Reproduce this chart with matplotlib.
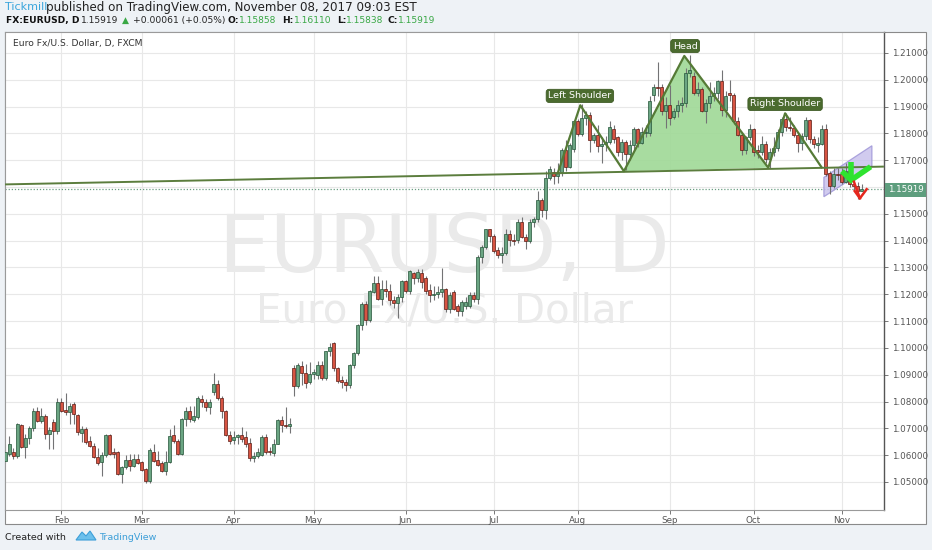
import numpy as np
import pandas as pd
import matplotlib
matplotlib.use('Agg')
import matplotlib.pyplot as plt
from matplotlib.patches import Rectangle, Polygon

# ---------------- data ----------------
dates = pd.bdate_range('2017-01-12', '2017-11-08')

open_ = [
    # Jan
    1.0580, 1.0604, 1.0610, 1.0598, 1.0714, 1.0629, 1.0664, 1.0701, 1.0766, 1.0729, 1.0747, 1.0679, 1.0723, 1.0691,
    # Feb
    1.0798, 1.0770, 1.0760, 1.0791, 1.0751, 1.0681, 1.0698, 1.0654, 1.0635, 1.0594, 1.0575, 1.0600, 1.0675, 1.0610,
    1.0610, 1.0529, 1.0556, 1.0581, 1.0560, 1.0585,
    # Mar
    1.0576, 1.0548, 1.0504, 1.0610, 1.0581, 1.0569, 1.0541, 1.0575, 1.0676, 1.0654, 1.0604, 1.0735, 1.0766, 1.0731,
    1.0741, 1.0810, 1.0798, 1.0781, 1.0835, 1.0866, 1.0813, 1.0766, 1.0675,
    # Apr
    1.0655, 1.0668, 1.0675, 1.0666, 1.0645, 1.0588, 1.0598, 1.0600, 1.0666, 1.0615, 1.0607, 1.0643, 1.0733, 1.0713,
    1.0709, 1.0924, 1.0858, 1.0933, 1.0908, 1.0874,
    # May
    1.0901, 1.0899, 1.0938, 1.0886, 1.0988, 1.1020, 1.0926, 1.0880, 1.0872, 1.0862, 1.0936, 1.0980, 1.1085, 1.1162,
    1.1104, 1.1209, 1.1244, 1.1182, 1.1219, 1.1212, 1.1180, 1.1168, 1.1191,
    # Jun
    1.1249, 1.1212, 1.1280, 1.1259, 1.1281, 1.1259, 1.1216, 1.1197, 1.1200, 1.1208, 1.1220, 1.1146, 1.1208, 1.1155,
    1.1136, 1.1158, 1.1155, 1.1198, 1.1183, 1.1339, 1.1376, 1.1442,
    # Jul
    1.1419, 1.1367, 1.1347, 1.1355, 1.1426, 1.1401, 1.1401, 1.1469, 1.1413, 1.1397, 1.1469, 1.1479, 1.1553, 1.1516,
    1.1634, 1.1658, 1.1641, 1.1658, 1.1737, 1.1675, 1.1743,
    # Aug
    1.1845, 1.1799, 1.1857, 1.1870, 1.1774, 1.1793, 1.1753, 1.1760, 1.1768, 1.1817, 1.1786, 1.1730, 1.1768, 1.1724,
    1.1758, 1.1817, 1.1765, 1.1800, 1.1802, 1.1944, 1.1975, 1.1973, 1.1883,
    # Sep
    1.1907, 1.1862, 1.1885, 1.1905, 1.1914, 1.2025, 1.2015, 1.1951, 1.1965, 1.1885, 1.1915, 1.1940, 1.1950, 1.1994,
    1.1889, 1.1952, 1.1945, 1.1845, 1.1795, 1.1740, 1.1785,
    # Oct
    1.1815, 1.1740, 1.1730, 1.1760, 1.1705, 1.1730, 1.1745, 1.1805, 1.1855, 1.1825, 1.1820, 1.1795, 1.1765, 1.1790,
    1.1850, 1.1780, 1.1758, 1.1760, 1.1815, 1.1654, 1.1605, 1.1650,
    # Nov
    1.1650, 1.1620, 1.1660, 1.1610, 1.1605, 1.15858,
]
high = [
    1.0640, 1.0672, 1.0625, 1.0720, 1.0718, 1.0680, 1.0710, 1.0775, 1.0778, 1.0775, 1.0752, 1.0706, 1.0735, 1.0812,
    1.0812, 1.0831, 1.0796, 1.0797, 1.0755, 1.0710, 1.0705, 1.0672, 1.0645, 1.0627, 1.0610, 1.0680, 1.0680, 1.0625,
    1.0615, 1.0560, 1.0602, 1.0606, 1.0605, 1.0606,
    1.0580, 1.0552, 1.0625, 1.0640, 1.0615, 1.0580, 1.0615, 1.0699, 1.0714, 1.0660, 1.0740, 1.0778, 1.0785, 1.0785,
    1.0820, 1.0825, 1.0810, 1.0810, 1.0906, 1.0880, 1.0820, 1.0770, 1.0690,
    1.0690, 1.0680, 1.0705, 1.0690, 1.0665, 1.0610, 1.0625, 1.0675, 1.0678, 1.0630, 1.0660, 1.0735, 1.0745, 1.0778,
    1.0740, 1.0935, 1.0945, 1.0950, 1.0940, 1.0948,
    1.0920, 1.0950, 1.0950, 1.0990, 1.1020, 1.1023, 1.0930, 1.0895, 1.0885, 1.0940, 1.0985, 1.1090, 1.1170, 1.1175,
    1.1215, 1.1268, 1.1268, 1.1253, 1.1253, 1.1237, 1.1195, 1.1200, 1.1255,
    1.1255, 1.1290, 1.1285, 1.1296, 1.1295, 1.1270, 1.1240, 1.1230, 1.1230, 1.1298, 1.1225, 1.1210, 1.1215, 1.1165,
    1.1180, 1.1190, 1.1210, 1.1210, 1.1345, 1.1385, 1.1445, 1.1445,
    1.1425, 1.1375, 1.1375, 1.1445, 1.1440, 1.1425, 1.1480, 1.1490, 1.1425, 1.1480, 1.1490, 1.1584, 1.1560, 1.1660,
    1.1680, 1.1670, 1.1690, 1.1745, 1.1775, 1.1765, 1.1850,
    1.1855, 1.1910, 1.1885, 1.1880, 1.1800, 1.1830, 1.1785, 1.1790, 1.1845, 1.1830, 1.1790, 1.1780, 1.1775, 1.1775,
    1.1825, 1.1820, 1.1825, 1.1830, 1.1940, 1.1985, 1.2068, 1.1985, 1.1935,
    1.1980, 1.1895, 1.1925, 1.1935, 1.2045, 1.2092, 1.2030, 1.1990, 1.1975, 1.1930, 1.1990, 1.1975, 1.2000, 1.2035,
    1.1960, 1.2000, 1.1950, 1.1860, 1.1800, 1.1790, 1.1835,
    1.1820, 1.1755, 1.1790, 1.1770, 1.1745, 1.1785, 1.1815, 1.1860, 1.1877, 1.1860, 1.1830, 1.1805, 1.1800, 1.1860,
    1.1855, 1.1790, 1.1785, 1.1830, 1.1835, 1.1660, 1.1670, 1.1670,
    1.1670, 1.1688, 1.1690, 1.1630, 1.1620, 1.16110,
]
low = [
    1.0572, 1.0597, 1.0585, 1.0590, 1.0625, 1.0590, 1.0640, 1.0690, 1.0722, 1.0720, 1.0662, 1.0622, 1.0622, 1.0680,
    1.0760, 1.0750, 1.0715, 1.0718, 1.0675, 1.0650, 1.0640, 1.0630, 1.0590, 1.0562, 1.0522, 1.0595, 1.0600, 1.0590,
    1.0525, 1.0495, 1.0550, 1.0540, 1.0555, 1.0566,
    1.0540, 1.0495, 1.0495, 1.0575, 1.0560, 1.0536, 1.0525, 1.0570, 1.0645, 1.0600, 1.0600, 1.0710, 1.0725, 1.0725,
    1.0735, 1.0780, 1.0765, 1.0755, 1.0825, 1.0806, 1.0740, 1.0670, 1.0640,
    1.0640, 1.0640, 1.0650, 1.0630, 1.0580, 1.0575, 1.0590, 1.0598, 1.0605, 1.0600, 1.0598, 1.0640, 1.0685, 1.0700,
    1.0682, 1.0820, 1.0850, 1.0860, 1.0852, 1.0865,
    1.0885, 1.0885, 1.0880, 1.0880, 1.0970, 1.0915, 1.0870, 1.0850, 1.0838, 1.0850, 1.0925, 1.0975, 1.1065, 1.1085,
    1.1095, 1.1205, 1.1180, 1.1160, 1.1190, 1.1160, 1.1150, 1.1110, 1.1170,
    1.1205, 1.1200, 1.1240, 1.1245, 1.1225, 1.1200, 1.1170, 1.1180, 1.1185, 1.1190, 1.1135, 1.1130, 1.1140, 1.1120,
    1.1120, 1.1145, 1.1150, 1.1170, 1.1165, 1.1315, 1.1370, 1.1395,
    1.1355, 1.1335, 1.1315, 1.1345, 1.1380, 1.1385, 1.1390, 1.1410, 1.1370, 1.1390, 1.1450, 1.1470, 1.1490, 1.1480,
    1.1625, 1.1610, 1.1615, 1.1640, 1.1660, 1.1670, 1.1730,
    1.1790, 1.1790, 1.1830, 1.1730, 1.1765, 1.1730, 1.1690, 1.1735, 1.1760, 1.1765, 1.1715, 1.1700, 1.1662, 1.1700,
    1.1740, 1.1750, 1.1760, 1.1785, 1.1790, 1.1920, 1.1940, 1.1870, 1.1820,
    1.1830, 1.1855, 1.1860, 1.1880, 1.1900, 1.2010, 1.1945, 1.1940, 1.1880, 1.1840, 1.1895, 1.1920, 1.1930, 1.1865,
    1.1860, 1.1920, 1.1835, 1.1790, 1.1718, 1.1725, 1.1775,
    1.1715, 1.1710, 1.1720, 1.1690, 1.1670, 1.1715, 1.1735, 1.1790, 1.1810, 1.1810, 1.1785, 1.1730, 1.1740, 1.1775,
    1.1765, 1.1745, 1.1730, 1.1755, 1.1640, 1.1574, 1.1595, 1.1625,
    1.1610, 1.1615, 1.1600, 1.1590, 1.1555, 1.15838,
]
close = [
    1.0612, 1.0641, 1.0598, 1.0716, 1.0629, 1.0664, 1.0701, 1.0766, 1.0729, 1.0747, 1.0679, 1.0694, 1.0691, 1.0798,
    1.0766, 1.0760, 1.0785, 1.0754, 1.0685, 1.0698, 1.0648, 1.0635, 1.0594, 1.0569, 1.0600, 1.0675, 1.0606, 1.0604,
    1.0529, 1.0556, 1.0581, 1.0560, 1.0585, 1.0572,
    1.0544, 1.0504, 1.0619, 1.0579, 1.0564, 1.0541, 1.0575, 1.0672, 1.0651, 1.0604, 1.0735, 1.0766, 1.0735, 1.0747,
    1.0812, 1.0798, 1.0781, 1.0798, 1.0866, 1.0812, 1.0765, 1.0675, 1.0654,
    1.0668, 1.0674, 1.0660, 1.0641, 1.0588, 1.0598, 1.0610, 1.0666, 1.0612, 1.0610, 1.0643, 1.0733, 1.0713, 1.0709,
    1.0718, 1.0858, 1.0935, 1.0905, 1.0871, 1.0901,
    1.0910, 1.0936, 1.0889, 1.0988, 1.1004, 1.0924, 1.0876, 1.0872, 1.0862, 1.0936, 1.0980, 1.1085, 1.1162, 1.1104,
    1.1212, 1.1244, 1.1184, 1.1219, 1.1212, 1.1180, 1.1168, 1.1191, 1.1249,
    1.1212, 1.1286, 1.1259, 1.1284, 1.1247, 1.1212, 1.1197, 1.1202, 1.1208, 1.1220, 1.1146, 1.1198, 1.1146, 1.1136,
    1.1171, 1.1173, 1.1198, 1.1183, 1.1339, 1.1376, 1.1442, 1.1419,
    1.1363, 1.1347, 1.1355, 1.1426, 1.1401, 1.1398, 1.1469, 1.1413, 1.1397, 1.1469, 1.1479, 1.1553, 1.1516, 1.1634,
    1.1668, 1.1641, 1.1655, 1.1737, 1.1675, 1.1755, 1.1845,
    1.1799, 1.1857, 1.1870, 1.1774, 1.1793, 1.1753, 1.1762, 1.1768, 1.1824, 1.1780, 1.1730, 1.1768, 1.1724, 1.1758,
    1.1817, 1.1765, 1.1805, 1.1805, 1.1920, 1.1975, 1.1970, 1.1883, 1.1907,
    1.1858, 1.1885, 1.1905, 1.1915, 1.2025, 1.2035, 1.1951, 1.1965, 1.1885, 1.1915, 1.1940, 1.1950, 1.1994, 1.1889,
    1.1940, 1.1945, 1.1845, 1.1795, 1.1740, 1.1785, 1.1815,
    1.1730, 1.1730, 1.1760, 1.1705, 1.1730, 1.1745, 1.1805, 1.1855, 1.1825, 1.1820, 1.1795, 1.1765, 1.1790, 1.1850,
    1.1780, 1.1760, 1.1763, 1.1815, 1.1650, 1.1605, 1.1650, 1.1645,
    1.1620, 1.1660, 1.1610, 1.1605, 1.1586, 1.15919,
]

month_labels = ['Feb', 'Mar', 'Apr', 'May', 'Jun', 'Jul', 'Aug', 'Sep', 'Oct', 'Nov']
price_ticks = [1.05, 1.06, 1.07, 1.08, 1.09, 1.10, 1.11, 1.12, 1.13, 1.14, 1.15, 1.16,
               1.17, 1.18, 1.19, 1.20, 1.21]
last_price = 1.15919

# head & shoulders pattern points (bar index counted from Feb 1, price)
hs_x = [124.05, 129.7, 140.6, 155.7, 176.7, 180.9, 190.0]
hs_y = [1.1651, 1.1905, 1.1659, 1.2089, 1.1672, 1.1875, 1.1674]
hs_labels = ['Left Shoulder', 'Head', 'Right Shoulder']
hs_label_x = [129.6, 155.9, 180.9]
hs_label_y = [1.1940, 1.2126, 1.1910]

# neckline
neck_x = [-14.1, 205.6]
neck_y = [1.16099, 1.16763]

# small rising channel
chan_x = [190.6, 202.6, 202.6, 190.6]
chan_y = [1.1564, 1.1680, 1.1754, 1.1636]

# arrows
green_stem_x = [197.3, 197.3]
green_stem_y = [1.1695, 1.1633]
green_head_x = [195.6, 197.4, 201.7]
green_head_y = [1.1652, 1.1626, 1.1670]
red_stem_x = [198.1, 199.6]
red_stem_y = [1.1620, 1.1558]
red_head_x = [198.3, 199.6, 201.3]
red_head_y = [1.1585, 1.1558, 1.1592]

# ---------------- figure ----------------
W, H = 932, 550
BG = '#eef2f6'
fig = plt.figure(figsize=(W / 100, H / 100), dpi=100, facecolor=BG)


def fx(px):
    return px / W


def fy(py):
    return 1 - py / H


card = Rectangle((fx(5), fy(524)), fx(926) - fx(5), fy(32) - fy(524),
                 transform=fig.transFigure, facecolor='white',
                 edgecolor='#8a8a8a', linewidth=0.8, zorder=-10)
fig.patches.append(card)

ax = fig.add_axes([fx(5), fy(510), fx(884) - fx(5), fy(32) - fy(510)])
ax.set_zorder(1)
ax.set_facecolor('white')

n = len(dates)
month_first = [int(np.where(dates.month == m)[0][0]) for m in range(2, 12)]
feb0 = month_first[0]
xs = np.arange(n) - feb0
month_pos = [m - feb0 for m in month_first]

o = np.array(open_)
h = np.array(high)
l = np.array(low)
c = np.array(close)

ax.set_xlim(-14.125, 205.625)
ax.set_ylim(1.03955, 1.21783)

# grid
for p in price_ticks:
    ax.axhline(p, color='#e8e8e8', lw=0.8, zorder=0)
for mp in month_pos:
    ax.axvline(mp, color='#e8e8e8', lw=0.8, zorder=0)

# watermark
ax.text(0.5, 1 - (250 - 32) / 478, 'EURUSD, D', transform=ax.transAxes,
        ha='center', va='center', fontsize=58, color='#eaeaea', zorder=0.5,
        family='DejaVu Sans')
ax.text(0.5, 1 - (312 - 32) / 478, 'Euro Fx/U.S. Dollar', transform=ax.transAxes,
        ha='center', va='center', fontsize=29, color='#eaeaea', zorder=0.5,
        family='DejaVu Sans')

# H&S filled head
ax.add_patch(Polygon(list(zip(hs_x[2:5], hs_y[2:5])), closed=True,
                     facecolor='#9fd996', edgecolor='none', alpha=0.9, zorder=1))

# small channel (behind candles, translucent)
ax.add_patch(Polygon(list(zip(chan_x, chan_y)), closed=True, facecolor='#c6bfec',
                     edgecolor='#9b92d6', lw=0.9, alpha=0.8, zorder=1.6))

# price line
ax.axhline(last_price, color='#6a9e82', lw=0.9, ls=(0, (1, 1.5)), zorder=1.5)

# candles
up = c >= o
ax.vlines(xs, l, h, color='#737375', lw=0.8, zorder=2)
body_lo = np.minimum(o, c)
body_h = np.maximum(np.abs(c - o), 0.00008)
ax.bar(xs[up], body_h[up], bottom=body_lo[up], width=0.7, color='#6ba583',
       edgecolor='#225437', linewidth=0.5, zorder=3)
ax.bar(xs[~up], body_h[~up], bottom=body_lo[~up], width=0.7, color='#d75442',
       edgecolor='#5b1a13', linewidth=0.5, zorder=3)

# neckline
ax.plot(neck_x, neck_y, color='#5b7d3d', lw=1.4, zorder=4, solid_capstyle='butt')

# H&S lines and labels
ax.plot(hs_x, hs_y, color='#557a36', lw=1.6, zorder=4)
for t, tx, ty in zip(hs_labels, hs_label_x, hs_label_y):
    ax.text(tx, ty, t, ha='center', va='center', fontsize=6.8, color='white',
            family='DejaVu Sans', zorder=6,
            bbox=dict(boxstyle='round,pad=0.22,rounding_size=0.3', fc='#4b6b2f',
                      ec='#3f5c26', lw=0.6))

# arrows
ax.plot(green_stem_x, green_stem_y, color='#2fe32f', lw=4, zorder=5, solid_capstyle='butt')
ax.plot(green_head_x, green_head_y, color='#2fe32f', lw=4, zorder=5, solid_joinstyle='miter')
ax.plot(red_stem_x, red_stem_y, color='#e5271e', lw=1.8, zorder=5)
ax.plot(red_head_x, red_head_y, color='#e5271e', lw=1.8, zorder=5)

# axes styling
for s in ['left', 'top', 'bottom']:
    ax.spines[s].set_color('#9a9a9a')
    ax.spines[s].set_linewidth(0.8)
ax.spines['right'].set_color('#555555')
ax.spines['right'].set_linewidth(1.0)

ax.yaxis.tick_right()
lab_ticks = [p for p in price_ticks if abs(p - 1.16) > 1e-9]
ax.set_yticks(lab_ticks)
ax.set_yticklabels(['%.5f' % p for p in lab_ticks])
ax.tick_params(axis='y', length=3, width=0.7, color='#777777', pad=3,
               labelsize=6.3, labelcolor='#555555')
ax.set_xticks(month_pos)
ax.set_xticklabels(month_labels)
ax.tick_params(axis='x', length=3, width=0.7, color='#777777', pad=1.2,
               labelsize=6.3, labelcolor='#555555')
for t in ax.get_xticklabels() + ax.get_yticklabels():
    t.set_family('DejaVu Sans')

# price label on axis
fig.patches.append(Rectangle((fx(885), fy(196.5)), fx(926) - fx(885), fy(183.5) - fy(196.5),
                             transform=fig.transFigure, facecolor='#5e9e7e',
                             edgecolor='none', zorder=5))
fig.text(fx(906), fy(190), '%.5f' % last_price, ha='center', va='center',
         fontsize=6.3, color='white', family='DejaVu Sans', zorder=6)

# chart title inside plot
fig.text(fx(13), fy(43.5), 'Euro Fx/U.S. Dollar, D, FXCM', ha='left', va='center',
         fontsize=6.6, color='#333333', family='DejaVu Sans', zorder=6)

# header line 1
fig.text(fx(5), fy(7.5), 'Tickmill', ha='left', va='center', fontsize=8,
         color='#39a5dc', family='DejaVu Sans')
fig.text(fx(46), fy(7.5), 'published on TradingView.com, November 08, 2017 09:03 EST',
         ha='left', va='center', fontsize=8.6, color='#222222', family='DejaVu Sans')

# header line 2
GREEN = '#39a845'
parts = [
    (6, 'FX:EURUSD, D', '#111111', 'bold'),
    (81, '1.15919', '#222222', 'normal'),
    (122, '\u25b2', GREEN, 'normal'),
    (133, '+0.00061 (+0.05%)', '#222222', 'normal'),
    (227, 'O:', '#111111', 'bold'),
    (239, '1.15858', GREEN, 'normal'),
    (282, 'H:', '#111111', 'bold'),
    (294, '1.16110', GREEN, 'normal'),
    (337, 'L:', '#111111', 'bold'),
    (346, '1.15838', GREEN, 'normal'),
    (387, 'C:', '#111111', 'bold'),
    (398, '1.15919', GREEN, 'normal'),
]
for px, t, col, wt in parts:
    fig.text(fx(px), fy(20.7), t, ha='left', va='center', fontsize=6.6, color=col,
             fontweight=wt, family='DejaVu Sans')

# footer
fig.text(fx(5), fy(537), 'Created with', ha='left', va='center', fontsize=6.8,
         color='#222222', family='DejaVu Sans')
logo = Polygon([(fx(76), fy(540)), (fx(82), fy(532)), (fx(86), fy(536)), (fx(90), fy(531)),
                (fx(96), fy(540))], closed=True, transform=fig.transFigure,
               facecolor='#6cc0ec', edgecolor='#3d9fd8', lw=0.8)
fig.patches.append(logo)
fig.text(fx(99), fy(537), 'TradingView', ha='left', va='center', fontsize=6.8,
         color='#3d9fd8', family='DejaVu Sans')

fig.savefig('out.png', dpi=100, facecolor=BG)
